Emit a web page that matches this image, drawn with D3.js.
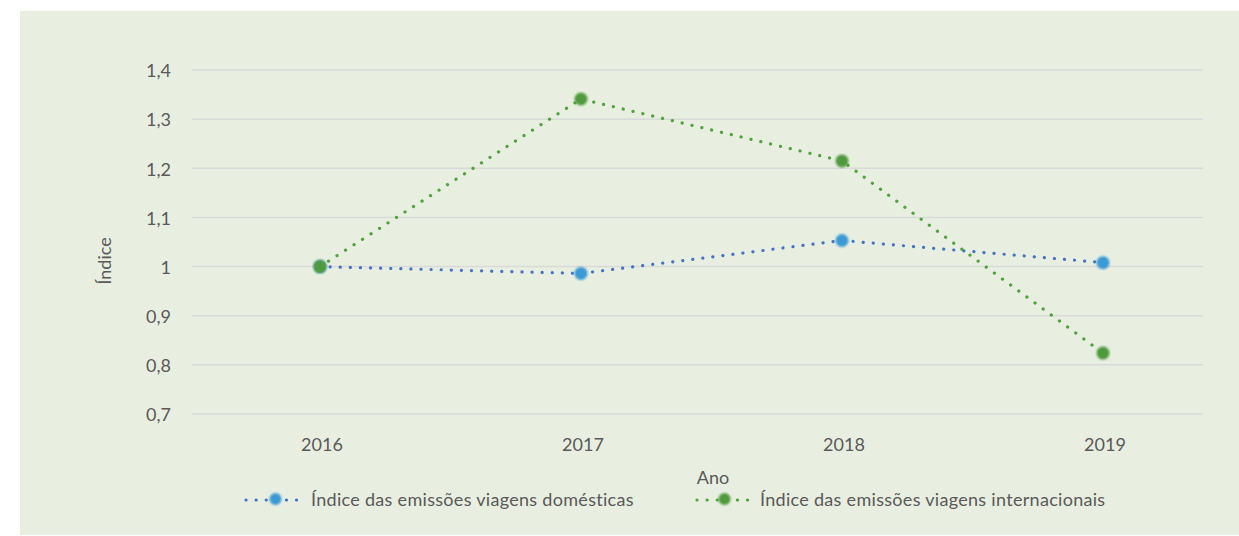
<!DOCTYPE html>
<html><head><meta charset="utf-8">
<script src="https://cdn.jsdelivr.net/npm/d3@7"></script>
<style>
html,body{margin:0;padding:0;background:#fff;}
svg{display:block;}
text{font-family:"Lato","Open Sans",sans-serif;fill:#595959;}
</style></head>
<body>
<svg id="c" width="1239" height="536"></svg>
<script>
const years = ["2016","2017","2018","2019"];
const domestic = [1.0, 0.986, 1.053, 1.008];
const international = [1.0, 1.341, 1.215, 0.824];
const yTicks = [0.7,0.8,0.9,1.0,1.1,1.2,1.3,1.4];
const seriesNames = ["Índice das emissões viagens domésticas","Índice das emissões viagens internacionais"];

const svg = d3.select("#c");
svg.append("rect").attr("x",20).attr("y",11).attr("width",1219).attr("height",524).attr("fill","#e8efe1");

const x = d3.scalePoint().domain(years).range([189.5,1233.5]).padding(0.5);
const y = d3.scaleLinear().domain([0.7,1.4]).range([414,70]);
const gx0 = 192, gx1 = 1203;

const fmt = v => (Math.round(v*10)/10 === 1 ? "1" : d3.format(".1f")(v).replace(".",","));

// gridlines
svg.append("g").selectAll("line").data(yTicks).join("line")
  .attr("x1",gx0).attr("x2",gx1)
  .attr("y1",d=>y(d)).attr("y2",d=>y(d))
  .attr("stroke","#d9d9d9").attr("stroke-width",1.5);

// y labels
svg.append("g").selectAll("text").data(yTicks).join("text")
  .attr("x",171).attr("y",d=>y(d)+1).attr("dy","0.35em")
  .attr("text-anchor","end").attr("font-size",18).text(fmt);

// x labels
svg.append("g").selectAll("text").data(years).join("text")
  .attr("x",d=>x(d)+2).attr("y",451).attr("text-anchor","middle").attr("font-size",18).text(d=>d);

// axis titles
svg.append("text").attr("transform","translate(111,261) rotate(-90)").attr("text-anchor","middle").attr("font-size",18).text("Índice");
svg.append("text").attr("x",713).attr("y",484).attr("text-anchor","middle").attr("font-size",18).text("Ano");

const series = [
  {vals:domestic, line:"#4472c4", marker:"#3b9ad6"},
  {vals:international, line:"#4ea33a", marker:"#4f9a3e"}
];
const lineGen = d3.line().x((d,i)=>x(years[i])).y(d=>y(d));

const defs = svg.append("defs");
defs.append("filter").attr("id","blur").append("feGaussianBlur").attr("stdDeviation",1);

series.forEach(s=>{
  svg.append("path").attr("d",lineGen(s.vals)).attr("fill","none")
    .attr("stroke",s.line).attr("stroke-width",3.2)
    .attr("stroke-dasharray","0.1 10").attr("stroke-linecap","round");
});
series.forEach(s=>{
  svg.append("g").selectAll("circle").data(s.vals).join("circle")
    .attr("cx",(d,i)=>x(years[i])).attr("cy",d=>y(d)).attr("r",6.5)
    .attr("fill",s.marker).attr("filter","url(#blur)");
});

// legend
const leg = [{x0:246,x1:305,tx:311},{x0:697,x1:752,tx:760}];
series.forEach((s,i)=>{
  const L = leg[i], ly = 500;
  const g = svg.append("g");
  g.append("line").attr("x1",L.x0).attr("x2",L.x1).attr("y1",ly).attr("y2",ly)
    .attr("stroke",s.line).attr("stroke-width",3.2).attr("stroke-dasharray","0.1 10").attr("stroke-linecap","round");
  g.append("circle").attr("cx",(L.x0+L.x1)/2).attr("cy",ly-1).attr("r",6).attr("fill",s.marker).attr("filter","url(#blur)");
  g.append("text").attr("x",L.tx).attr("y",ly).attr("dy","0.35em").attr("font-size",18)
    .attr("letter-spacing",0.3).text(seriesNames[i]);
});
</script>
</body></html>
